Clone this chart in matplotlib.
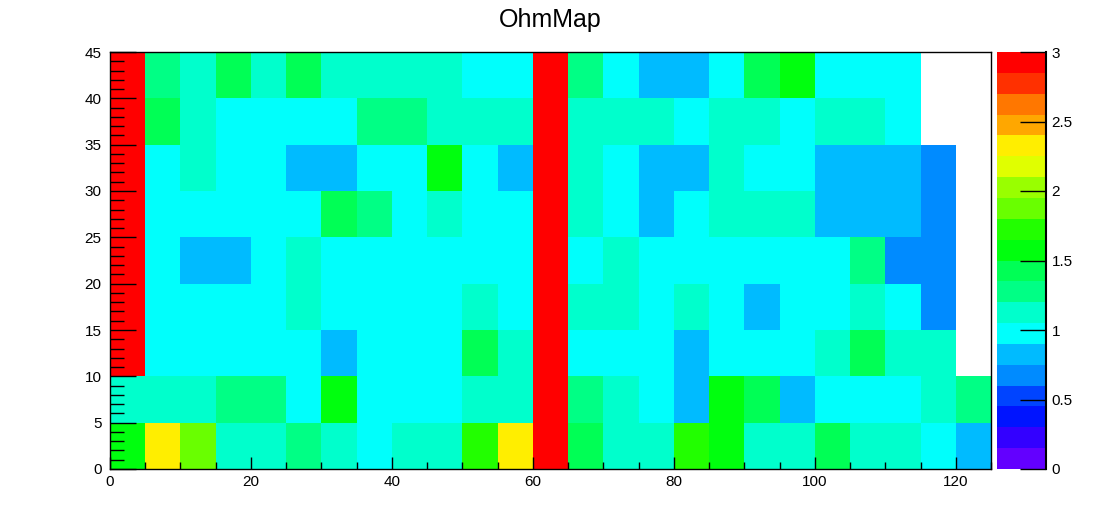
import colorsys
import numpy as np
import matplotlib
matplotlib.use("Agg")
import matplotlib.pyplot as plt
import matplotlib.colors as mcolors
from matplotlib.ticker import MultipleLocator

plt.rcParams['font.family'] = ['Liberation Sans', 'DejaVu Sans']

title = "OhmMap"
x_edges = np.arange(0, 130, 5)   # 25 bins, 0..125
y_edges = np.arange(0, 50, 5)    # 9 bins, 0..45
z_min, z_max, n_levels = 0.0, 3.0, 20

nan = np.nan
# one row per y bin, from y=0 upwards; one value per x bin
ohm = [
    [1.55, 2.3, 1.9, 1.1, 1.1, 1.3, 1.1, 1.0, 1.1, 1.1, 1.7, 2.3, 2.9, 1.4, 1.1, 1.1, 1.7, 1.55, 1.1, 1.1, 1.4, 1.1, 1.1, 1.0, 0.85],
    [1.1, 1.1, 1.1, 1.3, 1.3, 1.0, 1.55, 1.0, 1.0, 1.0, 1.1, 1.1, 2.9, 1.3, 1.1, 1.0, 0.85, 1.55, 1.4, 0.85, 1.0, 1.0, 1.0, 1.1, 1.3],
    [2.9, 1.0, 1.0, 1.0, 1.0, 1.0, 0.85, 1.0, 1.0, 1.0, 1.4, 1.1, 2.9, 1.0, 1.0, 1.0, 0.85, 1.0, 1.0, 1.0, 1.1, 1.4, 1.1, 1.1, nan],
    [2.9, 1.0, 1.0, 1.0, 1.0, 1.1, 1.0, 1.0, 1.0, 1.0, 1.1, 1.0, 2.9, 1.1, 1.1, 1.0, 1.1, 1.0, 0.85, 1.0, 1.0, 1.1, 1.0, 0.7, nan],
    [2.9, 1.0, 0.85, 0.85, 1.0, 1.1, 1.0, 1.0, 1.0, 1.0, 1.0, 1.0, 2.9, 1.0, 1.1, 1.0, 1.0, 1.0, 1.0, 1.0, 1.0, 1.3, 0.7, 0.7, nan],
    [2.9, 1.0, 1.0, 1.0, 1.0, 1.0, 1.4, 1.3, 1.0, 1.1, 1.0, 1.0, 2.9, 1.1, 1.0, 0.85, 1.0, 1.1, 1.1, 1.1, 0.85, 0.85, 0.85, 0.7, nan],
    [2.9, 1.0, 1.1, 1.0, 1.0, 0.85, 0.85, 1.0, 1.0, 1.55, 1.0, 0.85, 2.9, 1.1, 1.0, 0.85, 0.85, 1.1, 1.0, 1.0, 0.85, 0.85, 0.85, 0.7, nan],
    [2.9, 1.4, 1.1, 1.0, 1.0, 1.0, 1.0, 1.3, 1.3, 1.1, 1.1, 1.1, 2.9, 1.1, 1.1, 1.1, 1.0, 1.1, 1.1, 1.0, 1.1, 1.1, 1.0, nan, nan],
    [2.9, 1.3, 1.1, 1.4, 1.1, 1.4, 1.1, 1.1, 1.1, 1.1, 1.0, 1.0, 2.9, 1.3, 1.0, 0.85, 0.85, 1.0, 1.4, 1.55, 1.0, 1.0, 1.0, nan, nan],
]
z = np.ma.masked_invalid(np.array(ohm))

# old ROOT "pretty" palette (50 hues violet->red), sampled for 20 contours
pretty = []
for i in range(49):
    hue = 280 - (i + 1) * 280 / 50
    pretty.append(colorsys.hls_to_rgb(hue / 360, 0.5, 1.0))
pretty.append((1.0, 0.0, 0.0))
cols = [pretty[int((k + 0.99) * 50 / n_levels)] for k in range(n_levels)]
cmap = mcolors.ListedColormap(cols)
cmap.set_over(cols[-1])
cmap.set_bad((1, 1, 1, 0))
levels = np.linspace(z_min, z_max, n_levels + 1)
norm = mcolors.BoundaryNorm(levels, cmap.N)

W, H = 1102, 522
fig = plt.figure(figsize=(W / 100, H / 100), dpi=100)
ax = fig.add_axes([110 / W, (H - 469) / H, (991 - 110) / W, (469 - 52) / H])
cax = fig.add_axes([997 / W, (H - 469) / H, (1046 - 997) / W, (469 - 52) / H])

mesh = ax.pcolormesh(x_edges, y_edges, z, cmap=cmap, norm=norm)
ax.set_xlim(0, 125)
ax.set_ylim(0, 45)
ax.xaxis.set_major_locator(MultipleLocator(20))
ax.xaxis.set_minor_locator(MultipleLocator(5))
ax.yaxis.set_major_locator(MultipleLocator(5))
ax.yaxis.set_minor_locator(MultipleLocator(1))
ax.tick_params(axis='x', which='major', direction='in', length=9, width=1, labelsize=11, pad=4)
ax.tick_params(axis='x', which='minor', direction='in', length=5, width=1)
ax.tick_params(axis='y', which='major', direction='in', length=19, width=1, labelsize=11, pad=6)
ax.tick_params(axis='y', which='minor', direction='in', length=10, width=1)
for s in ax.spines.values():
    s.set_linewidth(1)
ax.set_axisbelow(False)
ax.set_title(title, fontsize=18, pad=18)

cb = fig.colorbar(mesh, cax=cax, ticks=np.arange(0, 3.01, 0.5))
cb.outline.set_visible(False)
cb.ax.set_yticklabels(['0', '0.5', '1', '1.5', '2', '2.5', '3'])
cax.tick_params(axis='y', which='major', direction='in', length=19, width=1,
                labelsize=11, pad=4, right=True, left=False)
cax.tick_params(axis='y', which='minor', length=0)
cax.axvline(1, color='black', lw=1.5, clip_on=False)

fig.savefig("out.png", dpi=100)
